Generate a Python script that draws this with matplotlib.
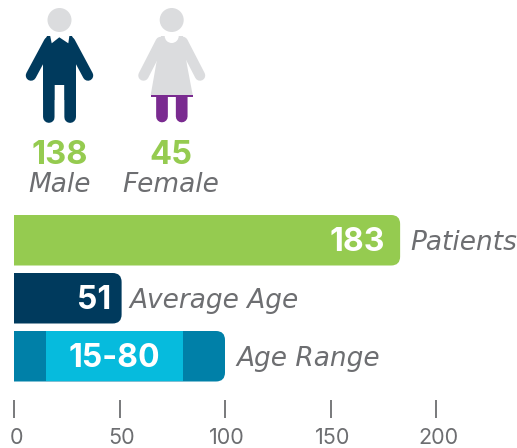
import matplotlib
matplotlib.use('Agg')
import matplotlib.pyplot as plt
from matplotlib.path import Path
from matplotlib.patches import PathPatch, Circle, Polygon, Rectangle

# === DATA ===
gender_labels = ['Male', 'Female']
gender_counts = [138, 45]
bar_names = ['Patients', 'Average Age', 'Age Range']
bar_values = [183, 51, 100]
bar_texts = ['183', '51', '15-80']
range_low = 15
range_high = 80
ticks = [0, 50, 100, 150, 200]

# === STYLE ===
GREEN = '#95CB50'
NAVY = '#003A5D'
TEAL = '#0080A8'
CYAN = '#06BBDD'
LIGHT = '#DBDCDE'
PURPLE = '#7A2B90'
GREY = '#6D6E71'
W, H = 517, 448
PX_PER_UNIT = 2.11
lw_px = 72 / 100


def right_rounded(x0, x1, y0, y1, r):
    # bar outline with only the right corners rounded, r is in pixels
    rx = r / PX_PER_UNIT
    verts = [(x0, y0), (x1 - rx, y0), (x1, y0), (x1, y0 + r), (x1, y1 - r), (x1, y1),
             (x1 - rx, y1), (x0, y1), (x0, y0)]
    codes = [Path.MOVETO, Path.LINETO, Path.CURVE3, Path.CURVE3, Path.LINETO,
             Path.CURVE3, Path.CURVE3, Path.LINETO, Path.CLOSEPOLY]
    return Path(verts, codes)


fig = plt.figure(figsize=(W / 100, H / 100), dpi=100)

# chart axes: x in data units, y in pixels from the top
ax = fig.add_axes([0, 0, 1, 1])
ax.set_xlim(-14 / PX_PER_UNIT, (W - 14) / PX_PER_UNIT)
ax.set_ylim(H, 0)
ax.axis('off')

bar_tops = [215, 273, 331]
bar_h = 50.5
colors = [GREEN, NAVY, TEAL]
label_gaps = [10, 8, 11]
value_pad = [7, 5]
num_font = dict(family='Inter', fontweight='bold', fontsize=23, color='white', va='center')
lab_font = dict(family='DejaVu Sans', style='italic', fontsize=19, color=GREY, va='center')

for i in range(len(bar_names)):
    top = bar_tops[i]
    mid = top + bar_h / 2
    p = right_rounded(0, bar_values[i], top, top + bar_h, 9)
    ax.add_patch(PathPatch(p, facecolor=colors[i], edgecolor='none'))
    if i == 2:
        ax.add_patch(Rectangle((range_low, top), range_high - range_low, bar_h,
                               facecolor=CYAN, edgecolor='none'))
        ax.text((range_low + range_high) / 2, mid + 2, bar_texts[i], ha='center', **num_font)
    else:
        ax.text(bar_values[i] - value_pad[i], mid + 2, bar_texts[i], ha='right', **num_font)
    ax.text(bar_values[i] + label_gaps[i] / PX_PER_UNIT, mid + 2.5, bar_names[i],
            ha='left', **lab_font)

for t in ticks:
    ax.plot([t, t], [400, 418], color=GREY, lw=1.3, solid_capstyle='butt')
    ax.text(t + 1, 438, str(t), ha='center', va='center', family='Inter', fontsize=15.5, color=GREY)

# icon axes in plain pixels
ic = fig.add_axes([0, 0, 1, 1])
ic.set_xlim(0, W)
ic.set_ylim(H, 0)
ic.axis('off')
ic.patch.set_alpha(0)


def limb(x0, y0, x1, y1, width, color):
    ic.plot([x0, x1], [y0, y1], color=color, lw=width * lw_px, solid_capstyle='round', snap=False)


# male
cx = 59.5
ic.add_patch(Circle((cx, 20), 12, facecolor=LIGHT, edgecolor='none'))
limb(49, 42, 31, 75.5, 10.5, NAVY)
limb(70, 42, 88, 75.5, 10.5, NAVY)
ic.add_patch(Polygon([(47, 36), (72, 36), (76, 45), (76, 100), (43, 100), (43, 45)],
                     facecolor=NAVY, edgecolor='none', snap=False))
limb(48.9, 95, 48.9, 117, 11.7, NAVY)
limb(70.1, 95, 70.1, 117, 11.8, NAVY)
ic.add_patch(Rectangle((54.7, 85), 9.5, 40, facecolor='white', edgecolor='none', zorder=3, snap=False))
ic.add_patch(Polygon([(50, 35), (51.7, 43.3), (59.3, 37.3), (68.3, 43.3), (69.5, 35)],
                     facecolor='white', edgecolor='none', zorder=3))

# female
cx = 171.7
limb(cx - 9.7, 116.5, cx - 9.7, 94, 11.7, PURPLE)
limb(cx + 10, 116.5, cx + 10, 94, 11.7, PURPLE)
limb(cx - 11, 42, 143.5, 75.5, 10.5, LIGHT)
limb(cx + 11, 42, 200, 75.5, 10.5, LIGHT)
ic.add_patch(Polygon([(161, 36), (183, 36), (187, 65), (192.7, 95), (150.7, 95), (156, 65)],
                     facecolor=LIGHT, edgecolor='none', zorder=3))
ic.add_patch(Rectangle((150.5, 94.7), 42.5, 2, facecolor=PURPLE, edgecolor='none', zorder=3))
ic.add_patch(Circle((cx, 36), 7, facecolor='white', edgecolor='none', zorder=3))
ic.add_patch(Circle((cx, 20), 12, facecolor=LIGHT, edgecolor='none', zorder=4))

# counts and names under the icons
gender_x = [59.5, 171]
for x, n, name in zip(gender_x, gender_counts, gender_labels):
    ic.text(x, 155, str(n), ha='center', va='center', family='Inter', fontweight='bold',
            fontsize=23.5, color=GREEN)
    ic.text(x, 185, name, ha='center', va='center', family='DejaVu Sans', style='italic',
            fontsize=19, color=GREY)

fig.savefig('out.png', dpi=100)
